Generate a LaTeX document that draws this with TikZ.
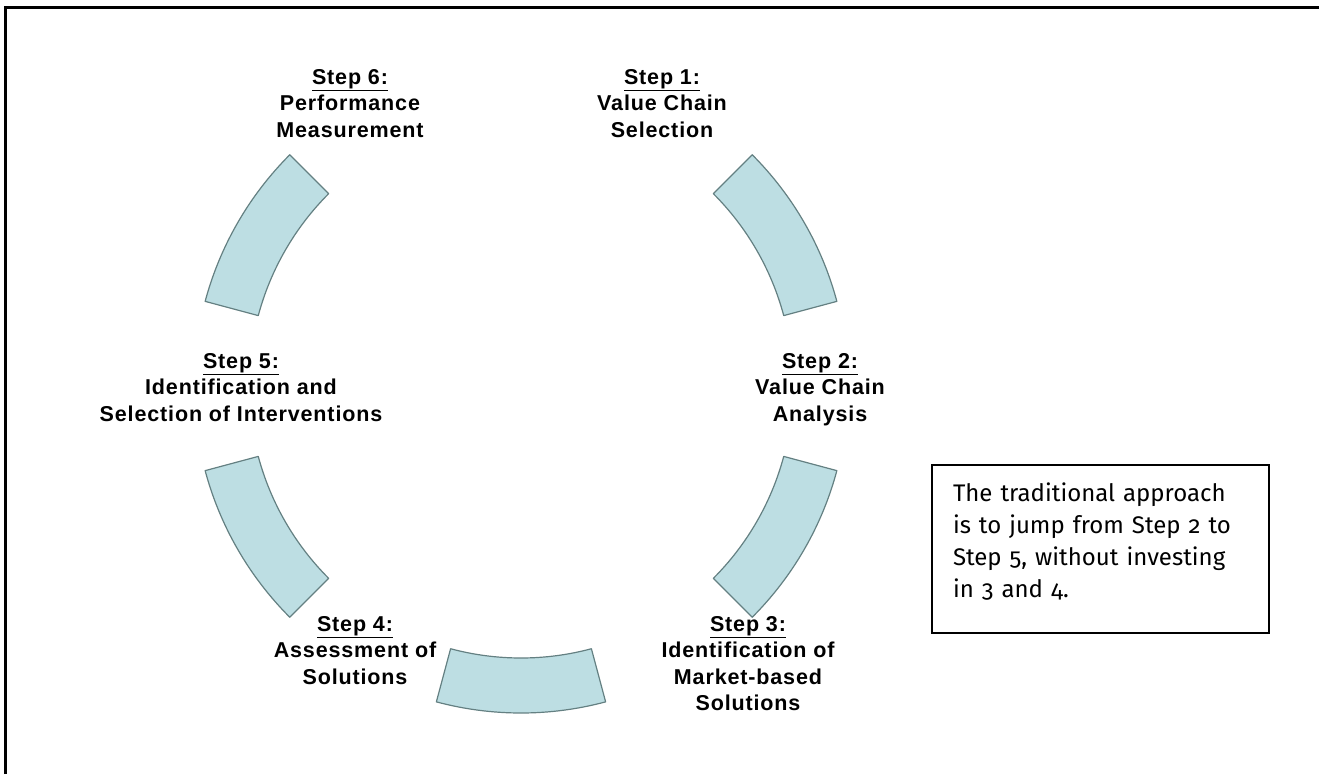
\documentclass[tikz,border=0pt]{standalone}
\usepackage{fontspec}
\setmainfont{Liberation Sans}
\newfontfamily\labelfont[LetterSpace=4]{Liberation Sans}
\newfontfamily\notefont[Numbers=OldStyle]{Fira Sans}
\usepackage{xcolor}
\definecolor{segfill}{RGB}{189,222,227}
\definecolor{segline}{RGB}{100,128,130}
\newcommand{\stepfont}{\labelfont\bfseries\fontsize{21.5}{26.5}\selectfont}
\newcommand{\stephead}[1]{\underline{#1}}

\begin{document}
\begin{tikzpicture}[%
    x=1pt,
    y=1pt,
    segment/.style={%
      fill=segfill,
      draw=segline,
      line width=1.2pt,
      line join=round
    },
    steplabel/.style={%
      anchor=north,
      align=center,
      inner sep=0pt,
      font=\stepfont
    },
    notebox/.style={%
      draw,
      line width=1.5pt,
      text width=295pt,
      text height=36.7pt,
      text depth=131.3pt,
      inner xsep=21pt,
      inner ysep=0pt,
      align=left,
      font=\notefont\fontsize{24}{32}\selectfont
    }
  ]
    \useasboundingbox (-521,-388) rectangle (798,386);
    % outer frame, only top and left edges show
    \draw[line width=2.5pt] (-515.3,-388) |- (798,378.7);

    % ring of segments, top slot left empty
    \foreach \a in {30,150,210,270,330}
      \draw[segment] ({\a-15}:272) arc[start angle=\a-15, end angle=\a+15, radius=272]
        -- ({\a+15}:327) arc[start angle=\a+15, end angle=\a-15, radius=327] -- cycle;

    \node[steplabel] (s6) at (-171,317) {\stephead{Step 6:}\\Performance\\Measurement};
    \node[steplabel] (s1) at (141,317)  {\stephead{Step 1:}\\Value Chain\\Selection};
    \node[steplabel] (s5) at (-280,33)  {\stephead{Step 5:}\\Identification and\\Selection of Interventions};
    \node[steplabel] (s2) at (299,33)   {\stephead{Step 2:}\\Value Chain\\Analysis};
    \node[steplabel] (s4) at (-166,-230) {\stephead{Step 4:}\\Assessment of\\Solutions};
    \node[steplabel] (s3) at (227,-230) {\stephead{Step 3:}\\Identification of\\Market-based\\Solutions};

    \node[notebox] (note) at (579.5,-163)
      {The traditional approach\\is to jump from Step 2 to\\Step 5, without investing\\in 3 and 4.};
\end{tikzpicture}
\end{document}
